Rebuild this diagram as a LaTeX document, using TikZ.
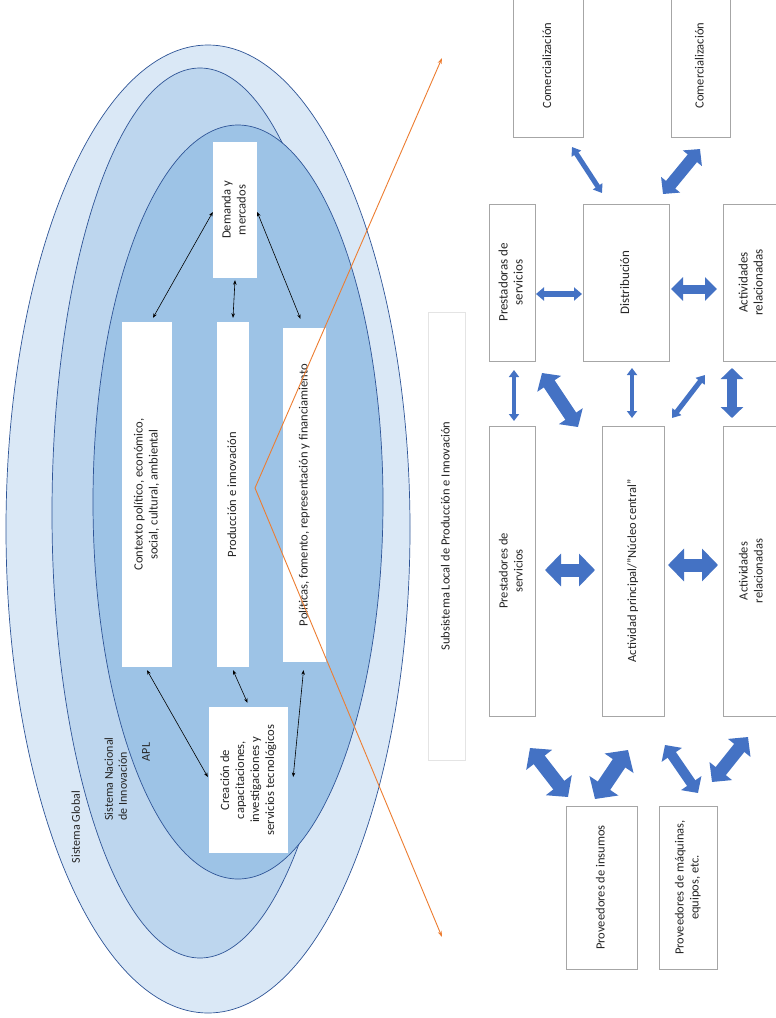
\documentclass[tikz,border=0pt]{standalone}
\usepackage{fontspec}
\setmainfont{Carlito}
\usetikzlibrary{arrows.meta,calc}
\definecolor{ellA}{HTML}{DAE8F6}
\definecolor{ellB}{HTML}{BDD6EE}
\definecolor{ellC}{HTML}{9DC3E6}
\definecolor{ellLine}{HTML}{2F5597}
\definecolor{blk}{HTML}{4472C4}
\definecolor{org}{HTML}{ED7D31}
\definecolor{boxline}{HTML}{A6A6A6}
\definecolor{subline}{HTML}{E4E4E4}
\definecolor{txt}{HTML}{262626}
\newcommand\rt[1]{\rotatebox{90}{\begin{tabular}{@{}c@{}}#1\end{tabular}}}
\newcommand\rtl[1]{\rotatebox{90}{\begin{tabular}{@{}l@{}}#1\end{tabular}}}
\begin{document}
\begin{tikzpicture}[x=1pt,y=-1pt,
  wbox/.style={fill=white, draw=none, inner sep=0pt, text=txt, font=\fontsize{12.6}{15}\selectfont},
  gbox/.style={fill=white, draw=boxline, line width=0.5pt, inner sep=0pt, text=txt, font=\fontsize{12.5}{15}\selectfont},
  lbl/.style={inner sep=0pt, text=txt, font=\fontsize{12}{14}\selectfont},
  ell/.style={draw=ellLine, line width=0.7pt},
  thinarr/.style={line width=0.6pt, black, {Stealth[length=4.5pt,width=3.5pt]}-{Stealth[length=4.5pt,width=3.5pt]}},
  orarr/.style={line width=0.9pt, org, {Stealth[length=6pt,width=4pt]}-{Stealth[length=6pt,width=4pt]}},
  barrow/.style n args={3}{blk, line width=#1, {Triangle[length=#3,width=#2]}-{Triangle[length=#3,width=#2]}}
]
\useasboundingbox (0,0) rectangle (776,1018);
\fill[white] (0,0) rectangle (776,1018);

% ellipses
\draw[ell, fill=ellA] (208,529) ellipse [x radius=202pt, y radius=484pt];
\draw[ell, fill=ellB] (200,513) ellipse [x radius=148pt, y radius=445pt];
\draw[ell, fill=ellC] (238,502) ellipse [x radius=145pt, y radius=377pt];

% labels of the systems
\node[lbl] (sg) at (77,827) {\rt{Sistema Global}};
\node[lbl] (sni) at (117,779) {\rtl{Sistema Nacional\\de Innovación}};
\node[lbl] (apl) at (147,752) {\rt{APL}};

% boxes inside the ellipses
\node[wbox, minimum width=44pt, minimum height=136pt] (dem) at (235,210) {\rt{Demanda y\\mercados}};
\node[wbox, minimum width=50pt, minimum height=345pt] (ctx) at (147,494.5) {\rt{Contexto político, económico,\\social, cultural, ambiental}};
\node[wbox, minimum width=32pt, minimum height=345pt] (prod) at (233,494.5) {\rt{Producción e innovación}};
\node[wbox, minimum width=43pt, minimum height=334pt] (pol) at (304.5,495) {\rt{Políticas, fomento, representación y financiamiento}};
\node[wbox, minimum width=79pt, minimum height=146pt] (cre) at (248.5,780) {\rt{Creación de\\capacitaciones,\\investigaciones y\\servicios tecnológicos}};

% thin arrows
\draw[thinarr] ([yshift=-2pt]dem.west) -- ([xshift=6pt,yshift=4pt]ctx.north);
\draw[thinarr] ([yshift=-2pt]dem.south) -- ([yshift=4pt]prod.north);
\draw[thinarr] ([yshift=-2pt]dem.east) -- ([xshift=-4pt,yshift=9pt]pol.north);
\draw[thinarr] ([yshift=-3pt]ctx.south) -- ([xshift=-1pt,yshift=3pt]cre.west);
\draw[thinarr] ([yshift=-3pt]prod.south) -- ([xshift=-1pt,yshift=4pt]cre.north);
\draw[thinarr] ([xshift=-1pt,yshift=-8pt]pol.south) -- ([xshift=5pt,yshift=3pt]cre.east);

% right side
\node[gbox, draw=subline, minimum width=37pt, minimum height=448pt] (sub) at (446.5,536) {\rt{Subsistema Local de Producción e Innovación}};

\node[gbox, minimum width=70pt, minimum height=143pt] (com1) at (548,65.5) {\rt{Comercialización}};
\node[gbox, minimum width=59pt, minimum height=143pt] (com2) at (700.5,65.5) {\rt{Comercialización}};
\node[gbox, minimum width=46pt, minimum height=157pt, font=\fontsize{13}{15}\selectfont] (pras) at (512,282.5) {\rt{Prestadoras de\\servicios}};
\node[gbox, minimum width=86pt, minimum height=157pt, font=\fontsize{13}{15}\selectfont] (dist) at (626,282.5) {\rt{Distribución}};
\node[gbox, minimum width=58pt, minimum height=157pt, font=\fontsize{13}{15}\selectfont] (actu) at (752,282.5) {\rt{Actividades\\relacionadas}};
\node[gbox, minimum width=46pt, minimum height=290pt] (pres) at (512,571) {\rt{Prestadores de\\servicios}};
\node[gbox, minimum width=62pt, minimum height=290pt] (act) at (633,571) {\rt{Actividad principal/"Núcleo central"}};
\node[gbox, minimum width=58pt, minimum height=290pt] (actl) at (752,571) {\rt{Actividades\\relacionadas}};
\node[gbox, minimum width=71pt, minimum height=163pt] (pins) at (601.5,887.5) {\rt{Proveedores de insumos}};
\node[gbox, minimum width=58pt, minimum height=163pt] (pmaq) at (688,887.5) {\rt{Proveedores de máquinas,\\equipos, etc.}};

% block arrows
\coordinate (b1a) at (572,147); \coordinate (b1b) at (602,193);
\coordinate (b2a) at (700,149); \coordinate (b2b) at (663,194);
\coordinate (b3a) at (536,294); \coordinate (b3b) at (582,294);
\coordinate (b4a) at (671,289); \coordinate (b4b) at (717,289);
\coordinate (b5a) at (514,370); \coordinate (b5b) at (514,421);
\coordinate (b6a) at (542,373); \coordinate (b6b) at (578,427);
\coordinate (b7a) at (632,368); \coordinate (b7b) at (632,418);
\coordinate (b8a) at (705,375); \coordinate (b8b) at (672,418);
\coordinate (b9a) at (732,368); \coordinate (b9b) at (732,418);
\coordinate (b10a) at (545,570); \coordinate (b10b) at (595,570);
\coordinate (b11a) at (668,565); \coordinate (b11b) at (718,565);
\coordinate (b12a) at (530,748); \coordinate (b12b) at (568,797);
\coordinate (b13a) at (628,750); \coordinate (b13b) at (595,799);
\coordinate (b14a) at (665,745); \coordinate (b14b) at (698,793);
\coordinate (b15a) at (748,737); \coordinate (b15b) at (712,782);
\draw[barrow={5pt}{11pt}{8pt}] (b1a) -- (b1b);
\draw[barrow={12pt}{24pt}{12pt}] (b2a) -- (b2b);
\draw[barrow={6pt}{13pt}{8pt}] (b3a) -- (b3b);
\draw[barrow={9pt}{23pt}{12pt}] (b4a) -- (b4b);
\draw[barrow={4pt}{10pt}{7pt}] (b5a) -- (b5b);
\draw[barrow={13pt}{28pt}{13pt}] (b6a) -- (b6b);
\draw[barrow={4pt}{10pt}{7pt}] (b7a) -- (b7b);
\draw[barrow={5pt}{11pt}{8pt}] (b8a) -- (b8b);
\draw[barrow={10pt}{22pt}{11pt}] (b9a) -- (b9b);
\draw[barrow={13pt}{32pt}{16pt}] (b10a) -- (b10b);
\draw[barrow={13pt}{32pt}{16pt}] (b11a) -- (b11b);
\draw[barrow={14pt}{32pt}{15pt}] (b12a) -- (b12b);
\draw[barrow={15pt}{34pt}{16pt}] (b13a) -- (b13b);
\draw[barrow={10pt}{24pt}{12pt}] (b14a) -- (b14b);
\draw[barrow={13pt}{28pt}{14pt}] (b15a) -- (b15b);

% orange connector
\coordinate (otop) at (442,58);
\coordinate (oapex) at (255,488);
\coordinate (obot) at (442,937);
\draw[orarr] (otop) -- (oapex) -- (obot);
\end{tikzpicture}
\end{document}
